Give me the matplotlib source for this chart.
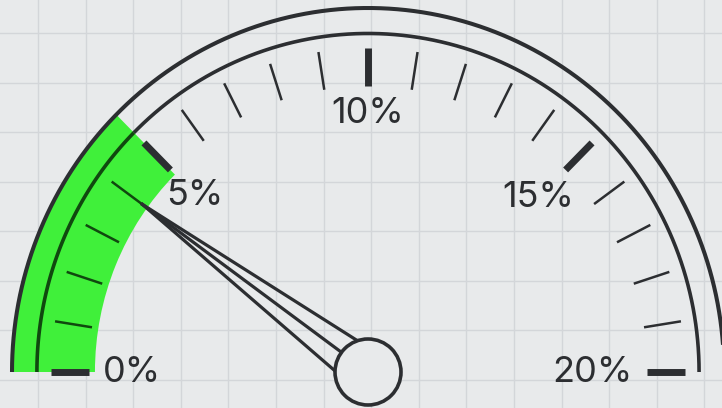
import numpy as np
import matplotlib
matplotlib.use("Agg")
import matplotlib.pyplot as plt
from matplotlib.patches import Wedge, Ellipse

# gauge data
gauge_min, gauge_max = 0, 20
tick_values = list(range(0, 21))
major_values = [0, 5, 10, 15, 20]
major_labels = ["0%", "5%", "10%", "15%", "20%"]
band_range = [0, 5]      # green zone
needle_value = 4.0

BG = "#e8eaeb"
GRID = "#d3d6d9"
INK = "#2c2e31"
GREEN = "#40f03a"
INK_ON_GREEN = "#10480f"

W, H = 722, 408
cx, cy = 368, 372        # gauge centre (px)
sx, sy = 356, 364        # px per unit radius (slightly stretched vertically)

plt.rcParams["font.family"] = ["Inter", "DejaVu Sans"]

fig = plt.figure(figsize=(W / 100, H / 100), dpi=100, facecolor=BG)
ax = fig.add_axes([0, 0, 1, 1])
ax.set_xlim(-cx / sx, (W - cx) / sx)
ax.set_ylim(-(H - cy) / sy, cy / sy)
ax.axis("off")


def ang(v):
    return np.pi * (1 - (v - gauge_min) / (gauge_max - gauge_min))


# background grid
for px in np.arange(38, W, 47.6):
    ax.axvline((px - cx) / sx, color=GRID, lw=1, zorder=0)
for py in np.arange(33, H, 49.5):
    ax.axhline((cy - py) / sy, color=GRID, lw=1, zorder=0)

# green band
ax.add_patch(Wedge((0, 0), 1.0, np.degrees(ang(band_range[1])), np.degrees(ang(band_range[0])),
                   width=1 - 0.767, facecolor=GREEN, edgecolor="none", zorder=1))

# arcs
t = np.linspace(0, np.pi, 400)
ax.plot(np.cos(t), np.sin(t), color=INK, lw=2.9, solid_capstyle="butt", zorder=3)
split = ang(band_range[1])
t1 = np.linspace(0, split, 300)
t2 = np.linspace(split, np.pi, 100)
ax.plot(0.93 * np.cos(t1), 0.93 * np.sin(t1), color=INK, lw=2.6, solid_capstyle="butt", zorder=3)
ax.plot(0.93 * np.cos(t2), 0.93 * np.sin(t2), color=INK_ON_GREEN, lw=2.6, solid_capstyle="butt", zorder=3)

# ticks
for v in tick_values:
    a = ang(v)
    major = v in major_values
    if major:
        color, lw = INK, 5
    else:
        color = INK_ON_GREEN if band_range[0] <= v < band_range[1] else INK
        lw = 1.8
    r0, r1 = 0.785, 0.89
    ax.plot([r0 * np.cos(a), r1 * np.cos(a)], [r0 * np.sin(a), r1 * np.sin(a)],
            color=color, lw=lw, solid_capstyle="butt", zorder=4)

# labels: pulled inward from a circle by the label's size in that direction
renderer = fig.canvas.get_renderer()
label_edge = 0.744
for v, lab in zip(major_values, major_labels):
    a = ang(v)
    c, s = np.cos(a), np.sin(a)
    txt = ax.text(0, 0, lab, ha="center", va="center", fontsize=26, color=INK, zorder=5)
    bb = txt.get_window_extent(renderer)
    hw = bb.width / 2 / sx
    hh = (bb.height - 8) / 2 / sy
    rc = label_edge - (hw * c ** 2 + hh * s ** 2)
    txt.set_position((rc * c, rc * s))

# needle
a = ang(needle_value)
u = np.array([np.cos(a), np.sin(a)])
p = np.array([-np.sin(a), np.cos(a)])
tip = 0.783 * u
w = 0.052
base_along = np.sqrt(0.093 ** 2 - w ** 2)
for off in (w, -w):
    b = base_along * u + off * p
    ax.plot([tip[0], b[0]], [tip[1], b[1]], color=INK, lw=2.3, zorder=5)
ax.plot([tip[0], 0], [tip[1], 0], color=INK, lw=2.3, zorder=5)

# hub
ax.add_patch(Ellipse((0, 0), 2 * 33 / sx, 2 * 33 / sy, facecolor=BG, edgecolor=INK, lw=2.6, zorder=6))

fig.savefig("out.png", dpi=100, facecolor=BG)
